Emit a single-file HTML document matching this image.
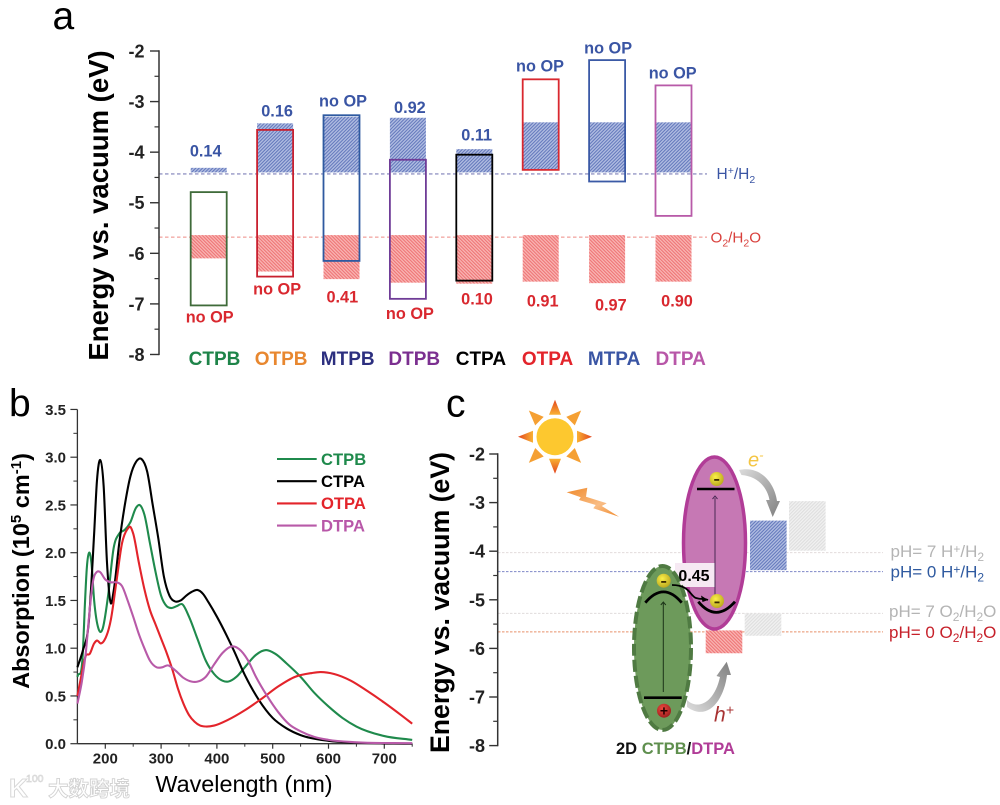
<!DOCTYPE html>
<html lang="en">
<head>
<meta charset="utf-8">
<title>Band energy and absorption figure</title>
<style>
html,body{margin:0;padding:0;background:#fff;}
svg{display:block;font-family:"Liberation Sans","Noto Sans CJK SC",sans-serif;}
</style>
</head>
<body>
<svg id="fig" xmlns="http://www.w3.org/2000/svg" width="1000" height="805" viewBox="0 0 1000 805">
<defs>
<pattern id="hatchBlue" width="2.4" height="2.4" patternUnits="userSpaceOnUse" patternTransform="rotate(45)">
<rect width="2.4" height="2.4" fill="#b0bce1"/><rect width="1" height="2.4" fill="#6277bb"/>
</pattern>
<pattern id="hatchRed" width="2.4" height="2.4" patternUnits="userSpaceOnUse" patternTransform="rotate(-45)">
<rect width="2.4" height="2.4" fill="#f9b6b4"/><rect width="1.1" height="2.4" fill="#ee7475"/>
</pattern>
<pattern id="hatchGray" width="2.4" height="2.4" patternUnits="userSpaceOnUse" patternTransform="rotate(45)">
<rect width="2.4" height="2.4" fill="#f1f1f1"/><rect width="1.1" height="2.4" fill="#dedede"/>
</pattern>
<linearGradient id="rayGrad" x1="0" y1="0" x2="0" y2="1"><stop offset="0" stop-color="#e2431e"/><stop offset="1" stop-color="#f9b233"/></linearGradient>
<linearGradient id="boltGrad" x1="0" y1="0" x2="1" y2="1"><stop offset="0" stop-color="#f08a2c"/><stop offset="0.6" stop-color="#f9bd85"/><stop offset="1" stop-color="#f08a2c"/></linearGradient>
<linearGradient id="arrowGrad1" x1="0" y1="0" x2="1" y2="1"><stop offset="0" stop-color="#dcdcdc"/><stop offset="1" stop-color="#7f7f7f"/></linearGradient>
<linearGradient id="arrowGrad2" x1="0" y1="1" x2="1" y2="0"><stop offset="0" stop-color="#dedede"/><stop offset="1" stop-color="#7f7f7f"/></linearGradient>
<radialGradient id="eGrad" cx="0.4" cy="0.35" r="0.7"><stop offset="0" stop-color="#fbf04a"/><stop offset="1" stop-color="#b9a51c"/></radialGradient>
<radialGradient id="hGrad" cx="0.4" cy="0.35" r="0.7"><stop offset="0" stop-color="#ee4a40"/><stop offset="1" stop-color="#9b1c1c"/></radialGradient>
</defs>

<rect width="1000" height="805" fill="#fff"/>

<text x="52.5" y="29" font-size="39">a</text>
<text x="9" y="416.5" font-size="39">b</text>
<text x="446" y="416.5" font-size="39">c</text>

<g id="panelA">
<line id="hLine" stroke="#7d7fb8" stroke-width="1.1" stroke-dasharray="3.5 2.5"/>
<line id="oLine" stroke="#ee8a85" stroke-width="1.1" stroke-dasharray="3.5 2.5"/>
</g>
<text transform="translate(108 205.5) rotate(-90)" text-anchor="middle" font-size="27.5" font-weight="700">Energy vs. vacuum (eV)</text>
<text x="716.5" y="179" font-size="15.5" fill="#3a55a4">H<tspan dy="-5" font-size="10.5">+</tspan><tspan dy="5">/H</tspan><tspan dy="4" font-size="10.5">2</tspan></text>
<text x="710.5" y="242.5" font-size="15.2" fill="#d9403c">O<tspan dy="4" font-size="10.5">2</tspan><tspan dy="-4">/H</tspan><tspan dy="4" font-size="10.5">2</tspan><tspan dy="-4">O</tspan></text>

<g id="panelB"></g>
<text transform="translate(29 571) rotate(-90)" text-anchor="middle" font-size="23.5" font-weight="700">Absorption (10<tspan dy="-8" font-size="15">5</tspan><tspan dy="8"> cm</tspan><tspan dy="-8" font-size="15">-1</tspan><tspan dy="8">)</tspan></text>
<text x="244" y="792" text-anchor="middle" font-size="23.4">Wavelength (nm)</text>

<g id="panelC"></g>
<text transform="translate(449 602.5) rotate(-90)" text-anchor="middle" font-size="26.7" font-weight="700">Energy vs. vacuum (eV)</text>

<g transform="translate(555 436.7)">
<polygon points="-6,-22 6,-22 0,-37" fill="url(#rayGrad)"/>
<polygon points="-6,-22 6,-22 0,-37" fill="#f5a033" transform="rotate(45)"/>
<polygon points="-6,-22 6,-22 0,-37" fill="url(#rayGrad)" transform="rotate(90)"/>
<polygon points="-6,-22 6,-22 0,-37" fill="#f5a033" transform="rotate(135)"/>
<polygon points="-6,-22 6,-22 0,-37" fill="url(#rayGrad)" transform="rotate(180)"/>
<polygon points="-6,-22 6,-22 0,-37" fill="#f5a033" transform="rotate(225)"/>
<polygon points="-6,-22 6,-22 0,-37" fill="url(#rayGrad)" transform="rotate(270)"/>
<polygon points="-6,-22 6,-22 0,-37" fill="#f5a033" transform="rotate(315)"/>
<circle r="18.5" fill="#fdc82f"/>
</g>
<polygon points="566.7,492.3 587.3,487.7 586,496.7 606.7,503.3 601.7,506 619,516.7 593.3,508.3 595.7,505 579,500 580.7,497.3" fill="url(#boltGrad)"/>

<g>
<ellipse cx="714.5" cy="543" rx="31" ry="86" fill="#c678b4" stroke="#b13c97" stroke-width="3.5"/>
<rect x="675" y="563" width="40" height="24" fill="#f6e9f3"/>
<line x1="697" y1="489" x2="734.5" y2="489" stroke="#000" stroke-width="2.6"/>
<line x1="715" y1="602" x2="715" y2="498" stroke="#4a2a55" stroke-width="1"/>
<path d="M712.5 499 L715 496 L717.5 499" fill="none" stroke="#4a2a55" stroke-width="1"/>
<circle cx="716.7" cy="479" r="7" fill="url(#eGrad)"/>
<rect x="714.2" y="479" width="5" height="1.8" fill="#3a2a00"/>
</g>
<g>
<ellipse cx="662.5" cy="648" rx="28.5" ry="82" fill="#6d9a5b" stroke="#4f7a42" stroke-width="4" stroke-dasharray="12 4"/>
<path d="M645.3 602.7 Q663.5 581 681.7 602.7" fill="none" stroke="#000" stroke-width="2.8"/>
<line x1="644" y1="697.7" x2="681.7" y2="697.7" stroke="#000" stroke-width="2.6"/>
<line x1="663.3" y1="692" x2="663.3" y2="603" stroke="#1c3318" stroke-width="1"/>
<path d="M660.8 605 L663.3 602 L665.8 605" fill="none" stroke="#1c3318" stroke-width="1"/>
<circle cx="663.7" cy="580.7" r="7" fill="url(#eGrad)"/>
<rect x="661.2" y="581" width="5" height="1.8" fill="#3a2a00"/>
<circle cx="664" cy="710.7" r="7" fill="url(#hGrad)"/>
<text x="664" y="715.5" text-anchor="middle" font-size="14" font-weight="700" fill="#200">+</text>
</g>
<text x="694" y="581" text-anchor="middle" font-size="16" font-weight="700">0.45</text>
<path d="M672 585 C690 585 690 596 696 598 C702 600 704 598 708 600" fill="none" stroke="#000" stroke-width="1.8"/>
<path d="M708 600 L701 595.5 L702.5 602 Z" fill="#000"/>
<path d="M698.3 601.7 Q716 623 735 601.7" fill="none" stroke="#000" stroke-width="2.8"/>
<circle cx="717" cy="601" r="7" fill="url(#eGrad)"/>
<rect x="714.5" y="601.5" width="5" height="1.8" fill="#3a2a00"/>

<path d="M739 470 C762 465 775 485 777 501 L780 501 L772.7 517 L766 500 L769.5 500 C767 486 756 476 741.5 475 Z" fill="url(#arrowGrad1)"/>
<path d="M687 700 C697 710 714 704 720 677 L716.5 676 L726.7 661.7 L731 675 L727 675 C724 700 708 722 687 707 Z" fill="url(#arrowGrad2)"/>
<text x="748" y="466.5" font-size="20" font-style="italic" fill="#f4c542">e<tspan dy="-7" font-size="13">-</tspan></text>
<text x="714" y="721.5" font-size="21" font-style="italic" fill="#a83232">h<tspan dy="-7" font-size="14">+</tspan></text>

<text x="890.5" y="557" font-size="17" fill="#b4b4b4">pH= 7 H<tspan dy="-4" font-size="12">+</tspan><tspan dy="4">/H</tspan><tspan dy="4" font-size="12">2</tspan></text>
<text x="890.5" y="577.5" font-size="17" fill="#2f5aa0">pH= 0 H<tspan dy="-4" font-size="12">+</tspan><tspan dy="4">/H</tspan><tspan dy="4" font-size="12">2</tspan></text>
<text x="889" y="617" font-size="17" fill="#b4b4b4">pH= 7 O<tspan dy="4" font-size="12">2</tspan><tspan dy="-4">/H</tspan><tspan dy="4" font-size="12">2</tspan><tspan dy="-4">O</tspan></text>
<text x="889" y="638" font-size="17" fill="#c6202a">pH= 0 O<tspan dy="4" font-size="12">2</tspan><tspan dy="-4">/H</tspan><tspan dy="4" font-size="12">2</tspan><tspan dy="-4">O</tspan></text>
<text x="616" y="754" font-size="16.5" font-weight="700"><tspan fill="#111">2D </tspan><tspan fill="#5f8f4e">CTPB</tspan><tspan fill="#111">/</tspan><tspan fill="#b13c97">DTPA</tspan></text>

<g>
<text x="9" y="797" font-size="26" font-weight="700" fill="#fff" stroke="#d8d8d8" stroke-width="1">K</text>
<text x="26" y="782" font-size="10.5" fill="#fff" stroke="#d8d8d8" stroke-width="0.7">100</text>
<text x="48" y="796" font-size="20.5" font-family="'Noto Sans CJK SC',sans-serif" font-weight="700" fill="#fff" stroke="#d2d2d2" stroke-width="0.9">大数跨境</text>
</g>
</svg>

<script>
// ---------- Panel a data (eV) ----------
const bandCategories = ['CTPB','OTPB','MTPB','DTPB','CTPA','OTPA','MTPA','DTPA'];
const lumo = [-4.79,-3.56,-3.27,-4.15,-4.05,-2.56,-2.18,-2.68];
const homo = [-7.03,-6.46,-6.15,-6.90,-6.54,-4.35,-4.58,-5.26];
const reductionTop = [-4.31,-3.43,-3.30,-3.32,-3.94,-3.41,-3.41,-3.41];
const reductionBottom = [-4.40,-4.40,-4.40,-4.40,-4.40,-4.35,-4.40,-4.40];
const oxidationTop = [-5.64,-5.64,-5.64,-5.64,-5.64,-5.64,-5.64,-5.64];
const oxidationBottom = [-6.10,-6.36,-6.51,-6.58,-6.60,-6.56,-6.59,-6.56];
const reductionLabels = ['0.14','0.16','no OP','0.92','0.11','no OP','no OP','no OP'];
const oxidationLabels = ['no OP','no OP','0.41','no OP','0.10','0.91','0.97','0.90'];
const hLevel = -4.43;
const oLevel = -5.68;
const energyTicksA = [-2,-3,-4,-5,-6,-7,-8];

// ---------- Panel b data ----------
const wavelengthTicks = [200,300,400,500,600,700];
const absorptionTicks = ['0.0','0.5','1.0','1.5','2.0','2.5','3.0','3.5'];
const ctpbWl = [150,160,163,167,171,175,180,188,191,195,205,215,225,235,245,255,261,270,280,290,300,310,318,328,338,350,365,380,395,410,420,435,450,470,488,505,525,550,575,600,625,650,700,750];
const ctpbAbs = [0.70,0.98,1.40,1.85,2.00,1.90,1.50,1.20,1.17,1.20,1.55,2.05,2.20,2.24,2.32,2.47,2.50,2.40,2.10,1.80,1.55,1.44,1.42,1.44,1.46,1.33,1.10,0.87,0.73,0.66,0.65,0.70,0.80,0.93,0.98,0.94,0.84,0.70,0.53,0.39,0.27,0.18,0.08,0.04];
const ctpaWl = [150,160,170,180,185,191,197,203,210,215,225,235,245,255,265,275,285,295,305,315,325,335,345,355,365,375,385,400,430,450,475,500,525,550,600,650,750];
const ctpaAbs = [0.80,0.98,1.25,2.20,2.75,2.97,2.70,1.90,1.47,1.60,2.10,2.50,2.80,2.95,2.98,2.85,2.50,2.15,1.75,1.55,1.49,1.50,1.55,1.59,1.61,1.57,1.48,1.33,0.98,0.72,0.46,0.27,0.16,0.09,0.03,0.01,0.00];
const otpaWl = [150,155,165,172,180,185,192,198,210,220,230,240,245,250,260,270,280,290,300,310,320,330,340,350,360,370,380,395,420,450,480,510,540,570,585,610,640,670,700,730,750];
const otpaAbs = [0.50,0.65,0.92,0.94,1.05,1.08,1.05,1.08,1.30,1.70,2.10,2.25,2.27,2.20,1.90,1.62,1.40,1.25,1.10,0.95,0.78,0.58,0.42,0.30,0.23,0.19,0.18,0.19,0.25,0.35,0.47,0.60,0.70,0.74,0.75,0.73,0.66,0.55,0.43,0.30,0.21];
const dtpaWl = [150,158,165,172,178,185,190,200,210,220,230,240,250,260,270,280,292,302,312,325,340,355,365,380,395,410,428,440,455,470,490,510,530,550,575,600,650,750];
const dtpaAbs = [0.42,0.65,0.95,1.40,1.70,1.80,1.80,1.72,1.69,1.69,1.65,1.50,1.33,1.15,1.00,0.87,0.80,0.80,0.82,0.77,0.69,0.65,0.65,0.70,0.83,0.95,1.02,0.99,0.88,0.70,0.50,0.33,0.20,0.13,0.07,0.04,0.015,0.005];
const legendLabels = ['CTPB','CTPA','OTPA','DTPA'];

// ---------- Panel c data (eV) ----------
const energyTicksC = [-2,-3,-4,-5,-6,-7,-8];
const schemeBoxTop = [-2.97,-3.37,-5.28,-5.63];
const schemeBoxBottom = [-3.99,-4.39,-5.74,-6.10];
const phLevels = [-4.03,-4.42,-5.28,-5.66];

// ---------- layout and style (not data) ----------
const boxColors = ['#3f6b3a','#c8202f','#2f5aa0','#6f3c97','#000000','#d9282f','#3b5aa6','#b85aa8'];
const catColors = ['#1e8449','#e8872f','#2c2f7f','#7b2f90','#000000','#e3242b','#3a55a4','#b857a8'];
const topNudgeX = [-3,2,1.5,2,2.4,-0.7,1,-0.8];
const topNudgeY = [11.3,7,8.6,5,8.6,7.6,6.7,7];
const botNudgeX = [1,2,0.8,2,2.7,2,3.7,3.5];
const botNudgeY = [17,18,23.3,20.3,21,24.7,27.4,25];
const seriesColors = ['#1f8a4c','#000000','#e3242b','#b85aa8'];
const schemeFills = ['url(#hatchGray)','url(#hatchBlue)','url(#hatchGray)','url(#hatchRed)'];
const schemeLefts = [789,750,744.7,705.7];
const phColors = ['#e3dcdc','#7f88c8','#e0dcdc','#e8906a'];

const NS = 'http://www.w3.org/2000/svg';
function mk(tag, attrs, parent, txt) {
  const el = document.createElementNS(NS, tag);
  for (const k in attrs) el.setAttribute(k, attrs[k]);
  if (txt !== undefined) el.textContent = txt;
  parent.appendChild(el);
  return el;
}

// axis functions
const yA = v => 51 + (-2 - v) * 50.58;
const bandLeft = i => 190.7 + 66.4 * i;
const bandW = 36;
const catX = i => 214.5 + 66.6 * i;
const xB = w => 105.3 + (w - 200) * 0.558;
const yB = a => 743.7 - a * 95.5;
const yC = v => 454 + (-2 - v) * 48.6;

// ----- Panel A -----
const pA = document.getElementById('panelA');
const hl = document.getElementById('hLine');
hl.setAttribute('x1', 159); hl.setAttribute('x2', 707);
hl.setAttribute('y1', yA(hLevel)); hl.setAttribute('y2', yA(hLevel));
const ol = document.getElementById('oLine');
ol.setAttribute('x1', 159); ol.setAttribute('x2', 707);
ol.setAttribute('y1', yA(oLevel)); ol.setAttribute('y2', yA(oLevel));

bandCategories.forEach((c, i) => {
  const x = bandLeft(i);
  const blue = mk('rect', {x: x, y: yA(reductionTop[i]), width: bandW, height: yA(reductionBottom[i]) - yA(reductionTop[i]), fill: 'url(#hatchBlue)'}, pA);
  
  
  const red = mk('rect', {x: x, y: yA(oxidationTop[i]), width: bandW, height: yA(oxidationBottom[i]) - yA(oxidationTop[i]), fill: 'url(#hatchRed)'}, pA);
  
  
});
bandCategories.forEach((c, i) => {
  const x = bandLeft(i);
  const box = mk('rect', {x: x, y: yA(lumo[i]), width: bandW, height: yA(homo[i]) - yA(lumo[i]), fill: 'none', stroke: boxColors[i], 'stroke-width': 1.8}, pA);
  
  
  const cx = x + bandW / 2;
  const topY = Math.min(yA(lumo[i]), yA(reductionTop[i])) - topNudgeY[i];
  const t1 = mk('text', {x: cx + topNudgeX[i], y: topY, 'text-anchor': 'middle', 'font-size': 16.3, 'font-weight': 700, fill: '#3a55a4'}, pA, reductionLabels[i]);
  
  
  const botY = Math.max(yA(homo[i]), yA(oxidationBottom[i])) + botNudgeY[i];
  const t2 = mk('text', {x: cx + botNudgeX[i], y: botY, 'text-anchor': 'middle', 'font-size': 16.3, 'font-weight': 700, fill: '#d9282f'}, pA, oxidationLabels[i]);
  
  
  const t3 = mk('text', {x: catX(i), y: 365, 'text-anchor': 'middle', 'font-size': 19, 'font-weight': 700, fill: catColors[i]}, pA, c);
  
  
});

function drawEnergyAxis(parent, ticks, yFn, axisX, majorLen, minorLen, labelRight, prefix) {
  const top = yFn(ticks[0]), bottom = yFn(ticks[ticks.length - 1]);
  const axis = mk('line', {x1: axisX, x2: axisX, y1: top - 0.7, y2: bottom + 0.7, stroke: '#333', 'stroke-width': 1.5}, parent);
  
  
  ticks.forEach((v, i) => {
    const y = yFn(v);
    const tick = mk('line', {x1: axisX - majorLen, x2: axisX, y1: y, y2: y, stroke: '#333', 'stroke-width': 1.4}, parent);
    
    
    const lab = mk('text', {x: labelRight, y: y + 6.5, 'text-anchor': 'end', 'font-size': 18, 'font-weight': 700, fill: '#222'}, parent, String(v));
    
    
    if (i < ticks.length - 1) {
      const ym = yFn(v - 0.5);
      const mt = mk('line', {x1: axisX - minorLen, x2: axisX, y1: ym, y2: ym, stroke: '#333', 'stroke-width': 1.2}, parent);
      
      
    }
  });
}
drawEnergyAxis(pA, energyTicksA, yA, 159, 9, 4.5, 144.5, 'panel-a');

// ----- Panel B -----
const pB = document.getElementById('panelB');
const axB1 = mk('line', {x1: xB(150), x2: xB(150), y1: yB(3.5), y2: yB(0), stroke: '#333', 'stroke-width': 1.3}, pB);


const axB2 = mk('line', {x1: xB(150), x2: xB(750), y1: yB(0), y2: yB(0), stroke: '#333', 'stroke-width': 1.3}, pB);



absorptionTicks.forEach((lab, i) => {
  const v = parseFloat(lab), y = yB(v);
  const t = mk('line', {x1: xB(150) - 7, x2: xB(150), y1: y, y2: y, stroke: '#333', 'stroke-width': 1.2}, pB);
  
  
  const tl = mk('text', {x: 66, y: y + 5.3, 'text-anchor': 'end', 'font-size': 15, 'font-weight': 700, fill: '#222'}, pB, lab);
  
  
  if (i < absorptionTicks.length - 1) {
    const ym = yB(v + 0.25);
    const m = mk('line', {x1: xB(150) - 4, x2: xB(150), y1: ym, y2: ym, stroke: '#333', 'stroke-width': 1}, pB);
    
    
  }
});
wavelengthTicks.forEach(w => {
  const x = xB(w);
  const t = mk('line', {x1: x, x2: x, y1: yB(0), y2: yB(0) + 5, stroke: '#333', 'stroke-width': 1.2}, pB);
  
  
  const tl = mk('text', {x: x, y: 763.5, 'text-anchor': 'middle', 'font-size': 15, 'font-weight': 700, fill: '#222'}, pB, String(w));
  
  
  const xm = xB(w + 50);
  const m = mk('line', {x1: xm, x2: xm, y1: yB(0), y2: yB(0) + 3, stroke: '#333', 'stroke-width': 1}, pB);
  
  
});

// Draws a smooth curve through the sampled points using spacing-weighted tangents,
// so unevenly spaced samples do not produce kinks.
function smoothPath(wl, ab) {
  const p = wl.map((w, i) => [xB(w), yB(ab[i])]);
  const n = p.length;
  const slope = [];
  for (let i = 0; i < n; i++) {
    if (i === 0) {
      slope.push((p[1][1] - p[0][1]) / (p[1][0] - p[0][0]));
    } else if (i === n - 1) {
      slope.push((p[n - 1][1] - p[n - 2][1]) / (p[n - 1][0] - p[n - 2][0]));
    } else {
      const h0 = p[i][0] - p[i - 1][0], h1 = p[i + 1][0] - p[i][0];
      const s0 = (p[i][1] - p[i - 1][1]) / h0, s1 = (p[i + 1][1] - p[i][1]) / h1;
      slope.push((s0 * h1 + s1 * h0) / (h0 + h1));
    }
  }
  let d = 'M' + p[0][0].toFixed(2) + ' ' + p[0][1].toFixed(2);
  for (let i = 0; i < n - 1; i++) {
    const h = (p[i + 1][0] - p[i][0]) / 3;
    d += 'C' + (p[i][0] + h).toFixed(2) + ' ' + (p[i][1] + slope[i] * h).toFixed(2) + ' ' +
         (p[i + 1][0] - h).toFixed(2) + ' ' + (p[i + 1][1] - slope[i + 1] * h).toFixed(2) + ' ' +
         p[i + 1][0].toFixed(2) + ' ' + p[i + 1][1].toFixed(2);
  }
  return d;
}
const seriesWl = [ctpbWl, ctpaWl, otpaWl, dtpaWl];
const seriesAbs = [ctpbAbs, ctpaAbs, otpaAbs, dtpaAbs];
legendLabels.forEach((name, i) => {
  const line = mk('path', {d: smoothPath(seriesWl[i], seriesAbs[i]), fill: 'none', stroke: seriesColors[i], 'stroke-width': 2.1, 'stroke-linejoin': 'round'}, pB);
  
  
  const ly = 459 + i * 22.2;
  const key = mk('line', {x1: 277, x2: 316.7, y1: ly, y2: ly, stroke: seriesColors[i], 'stroke-width': 2.1}, pB);
  
  
  const lt = mk('text', {x: 321, y: ly + 5.8, 'font-size': 16.6, 'font-weight': 700, fill: i === 3 ? '#b857a8' : seriesColors[i]}, pB, name);
  
  
});

// ----- Panel C -----
const pC = document.getElementById('panelC');
phLevels.forEach((v, i) => {
  const l = mk('line', {x1: 498, x2: 883, y1: yC(v), y2: yC(v), stroke: phColors[i], 'stroke-width': 1, 'stroke-dasharray': '2.5 1.5'}, pC);
  
  
});
schemeBoxTop.forEach((v, i) => {
  const r = mk('rect', {x: schemeLefts[i], y: yC(v), width: 36.6, height: yC(schemeBoxBottom[i]) - yC(v), fill: schemeFills[i]}, pC);
  
  
});
drawEnergyAxis(pC, energyTicksC, yC, 497.7, 8.5, 4.5, 485, 'panel-c');
</script>
</body>
</html>
